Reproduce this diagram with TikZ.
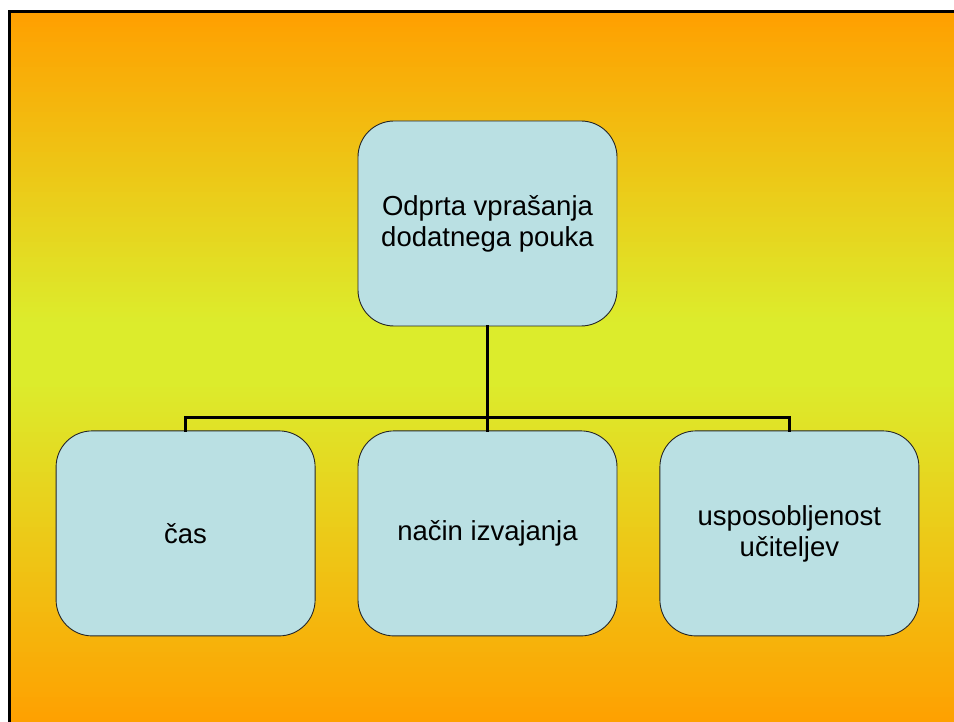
\documentclass[tikz,border=0pt]{standalone}
\usepackage{fontspec}
\setmainfont{Liberation Sans}
\usepackage{tikz}
\usetikzlibrary{positioning}
\definecolor{slideorange}{RGB}{255,160,0}
\definecolor{slidelime}{RGB}{220,236,44}
\definecolor{boxfill}{RGB}{186,224,227}

\begin{document}
\begin{tikzpicture}[x=1pt, y=-1pt,
    box/.style={draw=black!85, line width=0.9pt, fill=boxfill, rounded corners=36pt,
      minimum width=259pt, minimum height=205pt, align=center,
      font=\fontsize{27.5}{31}\selectfont, inner sep=0pt},
    conn/.style={line width=2.6pt, line cap=rect}]
  \useasboundingbox (0,0) rectangle (954,722);
  \fill[white] (0,0) rectangle (954,722);
  \foreach \i in {0,...,141} {
    \pgfmathsetmacro{\yy}{12+5*\i}
    \pgfmathsetmacro{\p}{\yy<320 ? (320-\yy)/3.08 : (\yy<380 ? 0 : (\yy-380)/3.42)}
    \fill[slideorange!\p!slidelime] (9,\yy) rectangle (954,\yy+6);
  }
  \draw[line width=3pt] (9,722) -- (9,12) -- (954,12);

  \node[box] (top) at (487.5,223.5) {Odprta vprašanja\\dodatnega pouka};
  \node[box, below=104pt of top] (nacin) {način izvajanja};
  \node[box, left=42pt of nacin] (cas) {čas};
  \node[box, right=42pt of nacin] (ucitelji) {usposobljenost\\učiteljev};

  \coordinate (bus) at ([yshift=13pt]nacin.north);
  \draw[conn] (top.south) -- (bus) -- (nacin.north);
  \draw[conn] (cas.north) |- (bus) -| (ucitelji.north);
\end{tikzpicture}
\end{document}
